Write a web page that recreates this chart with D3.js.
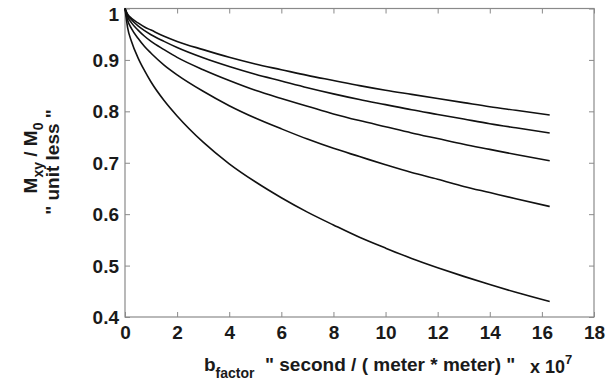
<!DOCTYPE html>
<html>
<head>
<meta charset="utf-8">
<script src="https://cdn.jsdelivr.net/npm/d3@7"></script>
<style>
  html, body { margin: 0; padding: 0; background: #fff; }
  svg { display: block; }
  text { font-family: "Liberation Sans", Arial, sans-serif; font-weight: bold; fill: #1a1a1a; }
</style>
</head>
<body>
<svg id="chart" width="612" height="382"></svg>
<script>
// b-factor sample positions (x 10^7 s/m^2)
const bValues = [0, 0.1, 0.25, 0.5, 0.75, 1, 1.5, 2, 3, 4, 5, 6, 7, 8, 9, 10, 11, 12, 13, 14, 15, 16.3];

// Normalised transverse magnetisation Mxy/M0 for each decay curve
const curve1 = [1, 0.989, 0.981, 0.972, 0.964, 0.958, 0.946, 0.936, 0.920, 0.905, 0.892,
                0.881, 0.870, 0.860, 0.850, 0.841, 0.833, 0.825, 0.817, 0.809, 0.802, 0.793];
const curve2 = [1, 0.987, 0.978, 0.966, 0.957, 0.949, 0.936, 0.924, 0.904, 0.887, 0.872,
                0.859, 0.846, 0.834, 0.823, 0.813, 0.803, 0.794, 0.785, 0.776, 0.768, 0.758];
const curve3 = [1, 0.984, 0.972, 0.958, 0.946, 0.936, 0.920, 0.905, 0.881, 0.860, 0.841,
                0.825, 0.810, 0.795, 0.782, 0.770, 0.758, 0.747, 0.736, 0.726, 0.716, 0.704];
const curve4 = [1, 0.977, 0.961, 0.942, 0.926, 0.913, 0.890, 0.871, 0.839, 0.811, 0.787,
                0.766, 0.746, 0.728, 0.712, 0.696, 0.681, 0.668, 0.654, 0.642, 0.630, 0.615];
const curve5 = [1, 0.963, 0.936, 0.904, 0.879, 0.857, 0.821, 0.791, 0.740, 0.698, 0.663,
                0.632, 0.604, 0.579, 0.555, 0.534, 0.514, 0.496, 0.479, 0.463, 0.448, 0.430];

const xTicks = [0, 2, 4, 6, 8, 10, 12, 14, 16, 18];
const yTicks = [0.4, 0.5, 0.6, 0.7, 0.8, 0.9, 1];

const svg = d3.select("#chart");

const plot = { left: 125, right: 594, top: 8.5, bottom: 317 };

const x = d3.scaleLinear().domain([0, 18]).range([plot.left, plot.right]);
const y = d3.scaleLinear().domain([0.4, 1]).range([plot.bottom, plot.top]);

const frameColor = "#8a8a8a";
const tickLen = 5;

// Bottom axis with labels, ticks pointing inward
const gx = svg.append("g")
  .attr("transform", `translate(0,${plot.bottom})`)
  .call(d3.axisBottom(x).tickValues(xTicks).tickSize(-tickLen).tickPadding(9)
    .tickFormat(d3.format("d")));
gx.selectAll("text").style("font-size", "19px");

// Left axis with labels
const gy = svg.append("g")
  .attr("transform", `translate(${plot.left},0)`)
  .call(d3.axisLeft(y).tickValues(yTicks).tickSize(-tickLen).tickPadding(6)
    .tickFormat(d => d === 1 ? "1" : d3.format(".1f")(d)));
gy.selectAll("text").style("font-size", "19px")
  .attr("dy", d => d === 1 ? "0.62em" : "0.34em");

// Mirrored ticks on top and right edges
svg.append("g")
  .attr("transform", `translate(0,${plot.top})`)
  .call(d3.axisTop(x).tickValues(xTicks).tickSize(-tickLen).tickFormat(""));
svg.append("g")
  .attr("transform", `translate(${plot.right},0)`)
  .call(d3.axisRight(y).tickValues(yTicks).tickSize(-tickLen).tickFormat(""));

svg.selectAll(".domain").remove();
svg.selectAll(".tick line").attr("stroke", frameColor).attr("stroke-width", 1);

// Axes box
svg.append("rect")
  .attr("x", plot.left).attr("y", plot.top)
  .attr("width", plot.right - plot.left).attr("height", plot.bottom - plot.top)
  .attr("fill", "none").attr("stroke", frameColor).attr("stroke-width", 1.2);

// Decay curves
const line = d3.line()
  .x((d, i) => x(bValues[i]))
  .y(d => y(d))
  .curve(d3.curveMonotoneX);

[curve1, curve2, curve3, curve4, curve5].forEach(c => {
  svg.append("path")
    .datum(c)
    .attr("d", line)
    .attr("fill", "none")
    .attr("stroke", "#111")
    .attr("stroke-width", 1.6);
});

// X axis title
const xl = svg.append("text").attr("x", 204).attr("y", 371).style("font-size", "19px");
xl.append("tspan").text("b");
xl.append("tspan").attr("dy", 7).style("font-size", "14px").text("factor");
svg.append("text").attr("x", 265).attr("y", 371).style("font-size", "19px")
  .text("\" second / ( meter * meter) \"");
const xs = svg.append("text").attr("x", 530).attr("y", 373).style("font-size", "18px");
xs.append("tspan").text("x 10");
xs.append("tspan").attr("dy", -9).style("font-size", "13px").text("7");

// Y axis title (two rotated lines)
const yl1 = svg.append("text")
  .attr("transform", "translate(37,158) rotate(-90)")
  .attr("text-anchor", "middle")
  .style("font-size", "19px");
yl1.append("tspan").text("M");
yl1.append("tspan").attr("dy", 6).style("font-size", "14px").text("xy");
yl1.append("tspan").attr("dy", -6).text(" / M");
yl1.append("tspan").attr("dy", 6).style("font-size", "14px").text("0");

svg.append("text")
  .attr("transform", "translate(59,162) rotate(-90)")
  .attr("text-anchor", "middle")
  .style("font-size", "19px")
  .text("\" unit less \"");
</script>
</body>
</html>
